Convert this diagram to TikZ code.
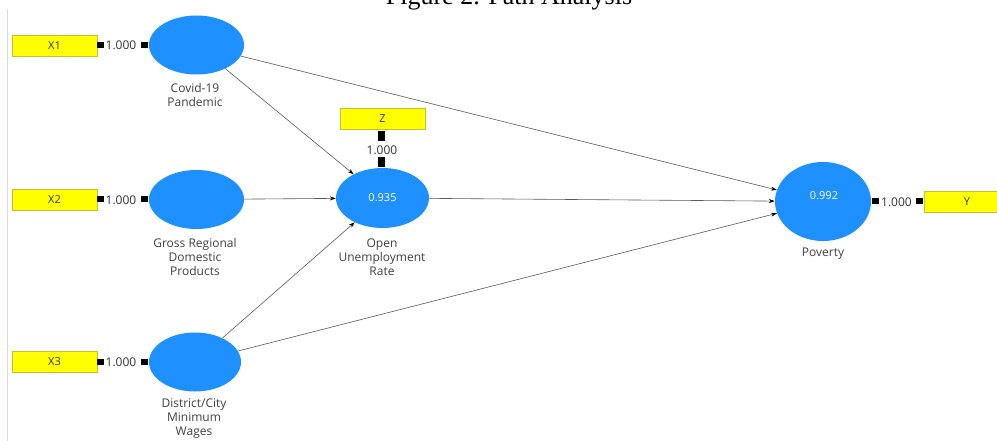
\documentclass[tikz,border=0pt]{standalone}
\usepackage{fontspec}
\newfontfamily\uifont{Open Sans}
\newfontfamily\titlefont{Liberation Serif}
\usetikzlibrary{shapes.geometric,arrows.meta}
\definecolor{lvblue}{HTML}{1E90FF}
\definecolor{indyellow}{HTML}{FFFF00}
\definecolor{lbltext}{HTML}{404040}
\begin{document}
\begin{tikzpicture}[x=1pt,y=-1pt,
  lv/.style={ellipse, fill=lvblue, minimum width=95pt, minimum height=59pt, inner sep=0pt,
    text=white, font=\uifont\fontsize{11}{12}\selectfont},
  ind/.style={rectangle, fill=indyellow, draw=yellow!75!black, line width=0.4pt,
    minimum width=85pt, minimum height=21pt, inner sep=0pt, text=black!80,
    font=\uifont\fontsize{11}{12}\selectfont},
  hsq/.style={rectangle, fill=black, minimum width=7pt, minimum height=6pt, inner sep=0pt},
  vsq/.style={rectangle, fill=black, minimum width=7pt, minimum height=10pt, inner sep=0pt},
  ld/.style={font=\uifont\fontsize{12}{13}\selectfont, inner sep=0pt, text=black!80},
  lbl/.style={align=center, font=\uifont\fontsize{12}{14}\selectfont, text=lbltext, inner sep=0pt},
  pth/.style={draw=black!65, line width=0.6pt, -{Stealth[length=6pt,width=4pt,black]}}
]
\useasboundingbox (0,0) rectangle (997,441);
\fill[white] (0,0) rectangle (997,441);
% title (cut off at top, as in the reference)
\node[font=\titlefont\fontsize{26}{28}\selectfont, anchor=base, inner sep=0pt] (title) at (509,5) {Figure 2. Path Analysis};
% left border line
\draw[black!15, line width=0.6pt] (7,9) -- (7,441);

% latent variables
\node[lv] (cov) at (196.5,45) {};
\node[lv] (grdp) at (196.5,199.5) {};
\node[lv, minimum width=92pt] (dcmw) at (195,362) {};
\node[lv, minimum width=93pt, minimum height=60pt] (oue) at (382.5,198) {0.935};
\node[lv, minimum width=96pt, minimum height=79pt] (pov) at (823,201.5) {};
\node[font=\uifont\fontsize{11}{12}\selectfont, text=white, inner sep=0pt] (povval) at (824,196) {0.992};

% labels
\node[lbl] (covl) at (195,95.5) {Covid-19\\Pandemic};
\node[lbl] (grdpl) at (195,257) {Gross Regional\\Domestic\\Products};
\node[lbl] (dcmwl) at (194,419) {District/City\\Minimum\\Wages};
\node[lbl] (ouel) at (382,257) {Open\\Unemployment\\Rate};
\node[lbl] (povl) at (823,254) {Poverty};

% indicators
\node[ind] (x1) at (54.5,45.5) {X1};
\node[ind] (x2) at (54.5,199.5) {X2};
\node[ind] (x3) at (54.5,362) {X3};
\node[ind] (z) at (382.5,118.5) {Z};
\node[ind] (y) at (967,201.5) {Y};

% loadings
\node[hsq] (x1a) at (100,45) {};
\node[ld] (x1v) at (121,45.5) {1.000};
\node[hsq] (x1b) at (144,45) {};
\node[hsq] (x2a) at (100,199.5) {};
\node[ld] (x2v) at (121,200) {1.000};
\node[hsq] (x2b) at (144,199.5) {};
\node[hsq] (x3a) at (100,361.5) {};
\node[ld] (x3v) at (121,362) {1.000};
\node[hsq] (x3b) at (144,361.5) {};
\node[vsq] (za) at (381.5,136) {};
\node[ld] (zv) at (382,150) {1.000};
\node[vsq] (zb) at (381.5,162.5) {};
\node[hsq] (ya) at (875,201.5) {};
\node[ld] (yv) at (896.5,202) {1.000};
\node[hsq] (yb) at (919.5,201.5) {};

% structural paths
\draw[pth] (cov) -- (oue);
\draw[pth] (cov) -- (pov);
\draw[pth] (grdp) -- (oue);
\draw[pth] (dcmw) -- (oue);
\draw[pth] (dcmw) -- (pov);
\draw[pth] (oue) -- (pov);
\end{tikzpicture}
\end{document}
